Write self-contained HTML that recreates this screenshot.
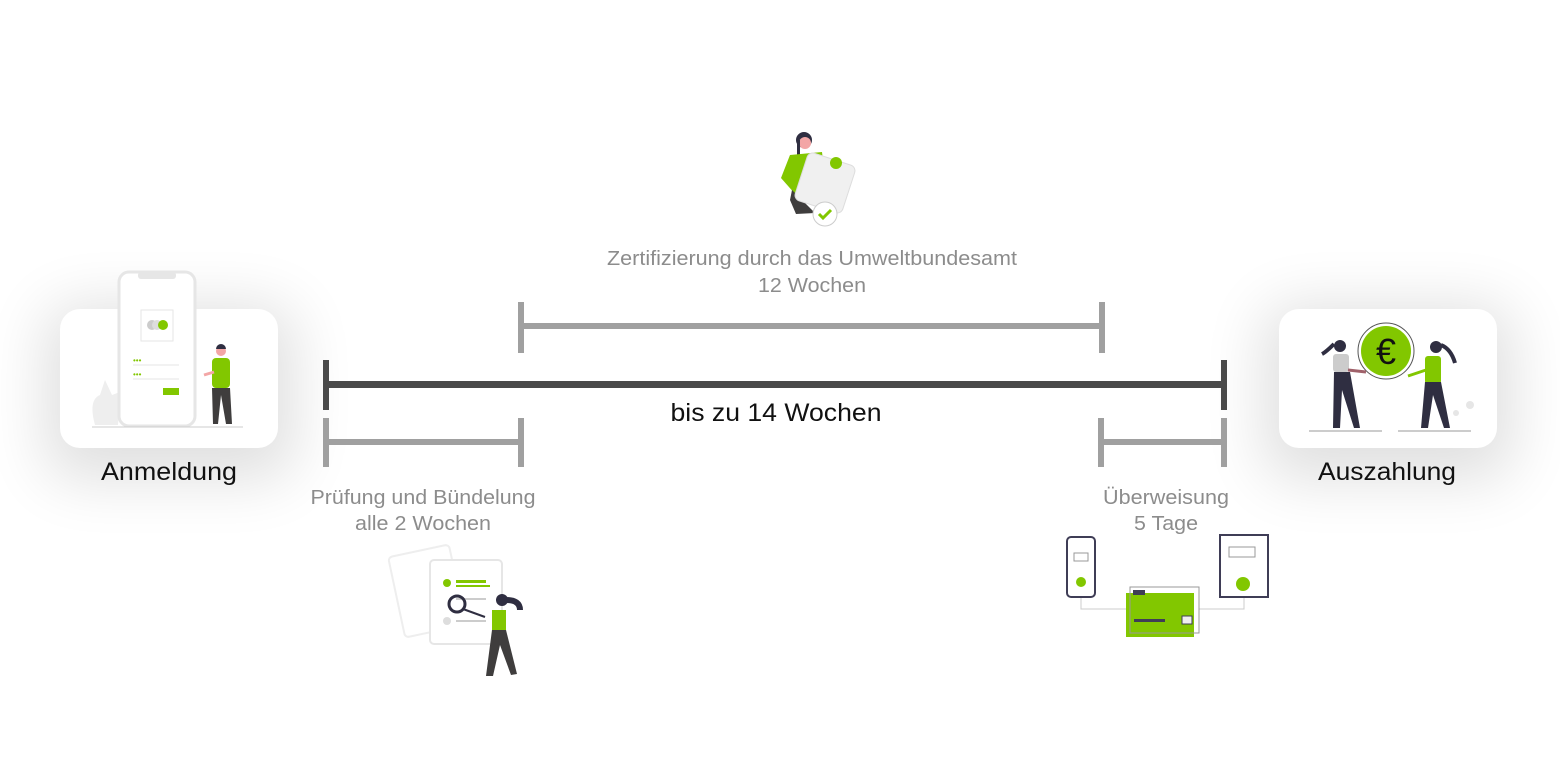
<!DOCTYPE html>
<html><head><meta charset="utf-8"><style>
html,body{margin:0;padding:0;background:#fff;}
body{width:1560px;height:780px;overflow:hidden;position:relative;font-family:"Liberation Sans",sans-serif;}
svg{position:absolute;left:0;top:0;}
</style></head><body>
<svg width="1560" height="780" viewBox="0 0 1560 780" xmlns="http://www.w3.org/2000/svg">
<defs>
<filter id="sh" x="-60%" y="-60%" width="220%" height="220%"><feGaussianBlur stdDeviation="30"/></filter>
</defs>
<rect x="45" y="305" width="250" height="175" rx="30" fill="#000" opacity="0.12" filter="url(#sh)"/>
<rect x="1263" y="305" width="250" height="175" rx="30" fill="#000" opacity="0.12" filter="url(#sh)"/>
<rect x="60" y="309" width="218" height="139" rx="20" fill="#fff"/>
<rect x="1279" y="309" width="218" height="139" rx="20" fill="#fff"/>

<!-- left illustration -->
<path d="M95 425 Q88 400 100 395 L105 380 L112 395 L120 392 L118 425Z" fill="#eee"/>
<rect x="119" y="272" width="76" height="154" rx="10" fill="#fff" stroke="#e6e6e6" stroke-width="3"/>
<rect x="138" y="272" width="38" height="7" rx="3" fill="#e6e6e6"/>
<rect x="141" y="310" width="32" height="31" fill="#fff" stroke="#e6e6e6"/>
<circle cx="152" cy="325" r="5" fill="#ccc"/><circle cx="157" cy="325" r="5" fill="#ddd"/><circle cx="163" cy="325" r="5" fill="#82c700"/>
<text x="133" y="363" font-size="8" fill="#82c700">•••</text><line x1="133" y1="365" x2="179" y2="365" stroke="#e6e6e6"/>
<text x="133" y="377" font-size="8" fill="#82c700">•••</text><line x1="133" y1="379" x2="179" y2="379" stroke="#e6e6e6"/>
<rect x="163" y="388" width="16" height="7" fill="#82c700"/>
<line x1="92" y1="427" x2="243" y2="427" stroke="#ccc"/>
<circle cx="221" cy="351" r="5" fill="#f3a6a6"/><path d="M216 349 a5 5 0 0 1 10 0z" fill="#2f2e41"/>
<rect x="212" y="358" width="18" height="30" rx="4" fill="#82c700"/>
<line x1="214" y1="372" x2="204" y2="375" stroke="#f3a6a6" stroke-width="3"/>
<path d="M212 388 L230 388 L232 424 L226 424 L221 395 L218 424 L213 424Z" fill="#3f3d3d"/>

<!-- right illustration -->
<line x1="1309" y1="431" x2="1382" y2="431" stroke="#999"/><line x1="1398" y1="431" x2="1471" y2="431" stroke="#999"/>
<circle cx="1386" cy="351" r="28" fill="#fff" stroke="#555" stroke-width="1"/>
<circle cx="1386" cy="351" r="25" fill="#82c700"/>
<text x="1386" y="364" font-size="36" text-anchor="middle" fill="#111" font-family="Liberation Sans,sans-serif">€</text>
<circle cx="1340" cy="346" r="6" fill="#2f2e41"/><path d="M1334 344 q-8 8 -12 10" stroke="#2f2e41" stroke-width="4" fill="none"/>
<rect x="1333" y="354" width="16" height="18" rx="3" fill="#ccc"/>
<line x1="1348" y1="370" x2="1366" y2="372" stroke="#a0616a" stroke-width="3"/>
<path d="M1334 372 L1350 372 L1360 428 L1354 428 L1342 390 L1340 428 L1333 428Z" fill="#2f2e41"/>
<circle cx="1436" cy="347" r="6" fill="#2f2e41"/><path d="M1441 345 q10 4 14 18" stroke="#2f2e41" stroke-width="4" fill="none"/>
<rect x="1425" y="356" width="16" height="28" rx="3" fill="#82c700"/>
<line x1="1426" y1="370" x2="1408" y2="376" stroke="#82c700" stroke-width="3"/>
<path d="M1425 382 L1441 382 L1450 428 L1444 428 L1433 395 L1428 428 L1421 428Z" fill="#2f2e41"/>
<circle cx="1470" cy="405" r="4" fill="#e6e6e6"/><circle cx="1456" cy="413" r="3" fill="#e6e6e6"/>

<!-- top illustration -->
<circle cx="804" cy="140" r="8" fill="#2f2e41"/><circle cx="805" cy="143" r="6" fill="#f3a6a6"/>
<rect x="797" y="140" width="3" height="18" fill="#2f2e41"/>
<path d="M790 155 L822 152 L826 185 L796 195 L781 178Z" fill="#82c700"/>
<path d="M792 190 L815 213 L796 214 L790 200Z" fill="#3f3d3d"/>
<rect x="800" y="158" width="50" height="50" rx="6" fill="#f0f0f0" stroke="#ddd" transform="rotate(18 825 183)"/>
<circle cx="836" cy="163" r="6" fill="#82c700"/>
<circle cx="825" cy="214" r="12" fill="#fff" stroke="#ccc"/>
<path d="M819 214 l4 4 l8 -8" stroke="#82c700" stroke-width="3" fill="none"/>

<!-- bottom-left illustration -->
<rect x="396" y="550" width="62" height="82" rx="4" fill="#fff" stroke="#eee" stroke-width="2" transform="rotate(-12 427 591)"/>
<rect x="430" y="560" width="72" height="84" rx="4" fill="#fff" stroke="#e6e6e6" stroke-width="2"/>
<circle cx="447" cy="583" r="4" fill="#82c700"/><rect x="456" y="580" width="30" height="3" fill="#82c700"/><rect x="456" y="585" width="34" height="2" fill="#82c700"/>
<rect x="456" y="598" width="30" height="2" fill="#ccc"/><rect x="456" y="620" width="30" height="2" fill="#ccc"/><circle cx="447" cy="621" r="4" fill="#ddd"/>
<circle cx="457" cy="604" r="8" fill="none" stroke="#2f2e41" stroke-width="3"/>
<line x1="463" y1="609" x2="485" y2="617" stroke="#2f2e41" stroke-width="2"/>
<circle cx="502" cy="600" r="6" fill="#2f2e41"/><path d="M506 600 q14 0 14 10" stroke="#2f2e41" stroke-width="6" fill="none"/>
<rect x="492" y="610" width="14" height="20" fill="#82c700"/>
<path d="M492 630 L506 630 L517 674 L511 675 L500 645 L493 676 L486 676Z" fill="#3f3d3d"/>

<!-- bottom-right illustration -->
<rect x="1067" y="537" width="28" height="60" rx="4" fill="#fff" stroke="#3f3d56" stroke-width="2"/>
<rect x="1074" y="553" width="14" height="8" fill="none" stroke="#999"/>
<circle cx="1081" cy="582" r="5" fill="#82c700"/>
<rect x="1220" y="535" width="48" height="62" fill="#fff" stroke="#3f3d56" stroke-width="2"/>
<rect x="1229" y="547" width="26" height="10" fill="none" stroke="#999"/>
<circle cx="1243" cy="584" r="7" fill="#82c700"/>
<path d="M1081 598 V609 H1127 M1199 609 H1244 V598" stroke="#ccc" fill="none"/>
<rect x="1126" y="593" width="68" height="44" fill="#82c700"/>
<rect x="1130" y="587" width="69" height="46" fill="none" stroke="#999"/>
<rect x="1133" y="590" width="12" height="5" fill="#3f3d56"/>
<rect x="1134" y="619" width="31" height="3" fill="#3f3d56"/>
<rect x="1182" y="616" width="10" height="8" fill="#eee" stroke="#3f3d56"/>

<!-- bars -->
<g fill="#a0a0a0">
<rect x="521" y="323" width="581" height="6"/><rect x="518" y="302" width="6" height="51"/><rect x="1099" y="302" width="6" height="51"/>
<rect x="326" y="439" width="195" height="6"/><rect x="323" y="418" width="6" height="49"/><rect x="518" y="418" width="6" height="49"/>
<rect x="1101" y="439" width="125" height="6"/><rect x="1098" y="418" width="6" height="49"/><rect x="1221" y="418" width="6" height="49"/>
</g>
<g fill="#4a4a4a">
<rect x="326" y="381" width="900" height="7"/><rect x="323" y="360" width="6" height="50"/><rect x="1221" y="360" width="6" height="50"/>
</g>

<!-- text -->
<g font-family="Liberation Sans, sans-serif" text-anchor="middle">
<text x="169" y="480" font-size="25" fill="#111" textLength="136" lengthAdjust="spacingAndGlyphs">Anmeldung</text>
<text x="1387" y="480" font-size="25" fill="#111" textLength="138" lengthAdjust="spacingAndGlyphs">Auszahlung</text>
<text x="776" y="421" font-size="25" fill="#111" textLength="211" lengthAdjust="spacingAndGlyphs">bis zu 14 Wochen</text>
<g font-size="20" fill="#8c8c8c">
<text x="812" y="265" textLength="410" lengthAdjust="spacingAndGlyphs">Zertifizierung durch das Umweltbundesamt</text>
<text x="812" y="292" textLength="108" lengthAdjust="spacingAndGlyphs">12 Wochen</text>
<text x="423" y="504" textLength="225" lengthAdjust="spacingAndGlyphs">Prüfung und Bündelung</text>
<text x="423" y="530" textLength="136" lengthAdjust="spacingAndGlyphs">alle 2 Wochen</text>
<text x="1166" y="504" textLength="126" lengthAdjust="spacingAndGlyphs">Überweisung</text>
<text x="1166" y="530" textLength="64" lengthAdjust="spacingAndGlyphs">5 Tage</text>
</g>
</g>
</svg>
</body></html>
